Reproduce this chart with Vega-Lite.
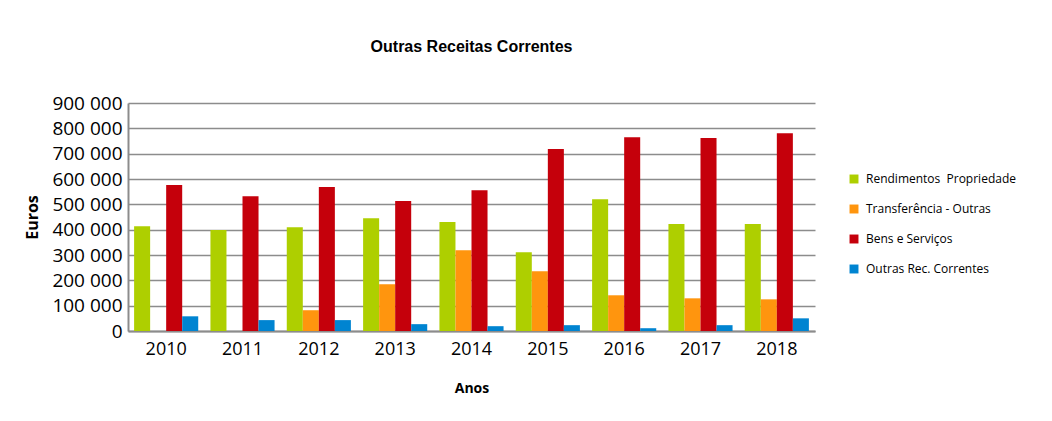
{
  "$schema": "https://vega.github.io/schema/vega-lite/v6.json",
  "width": 687,
  "height": 228,
  "autosize": {"type": "none"},
  "padding": {"left": 128, "top": 103, "right": 237, "bottom": 90},
  "background": "white",
  "config": {
    "locale": {"number": {"decimal": ",", "thousands": " ", "grouping": [3], "currency": ["", " €"]}},
    "view": {"stroke": null},
    "font": "Open Sans"
  },
  "title": {
    "text": "Outras Receitas Correntes",
    "font": "Liberation Sans",
    "fontSize": 16,
    "fontWeight": "bold",
    "color": "black",
    "anchor": "middle",
    "frame": "group",
    "offset": 39
  },
  "data": {
    "values": [
      {"ano": "2010", "serie": "Rendimentos\u00a0 Propriedade", "valor": 413000},
      {"ano": "2010", "serie": "Transferência - Outras", "valor": 0},
      {"ano": "2010", "serie": "Bens e Serviços", "valor": 576000},
      {"ano": "2010", "serie": "Outras Rec. Correntes", "valor": 58000},
      {"ano": "2011", "serie": "Rendimentos\u00a0 Propriedade", "valor": 399000},
      {"ano": "2011", "serie": "Transferência - Outras", "valor": 0},
      {"ano": "2011", "serie": "Bens e Serviços", "valor": 532000},
      {"ano": "2011", "serie": "Outras Rec. Correntes", "valor": 43000},
      {"ano": "2012", "serie": "Rendimentos\u00a0 Propriedade", "valor": 410000},
      {"ano": "2012", "serie": "Transferência - Outras", "valor": 82000},
      {"ano": "2012", "serie": "Bens e Serviços", "valor": 568000},
      {"ano": "2012", "serie": "Outras Rec. Correntes", "valor": 43000},
      {"ano": "2013", "serie": "Rendimentos\u00a0 Propriedade", "valor": 445000},
      {"ano": "2013", "serie": "Transferência - Outras", "valor": 185000},
      {"ano": "2013", "serie": "Bens e Serviços", "valor": 513000},
      {"ano": "2013", "serie": "Outras Rec. Correntes", "valor": 27000},
      {"ano": "2014", "serie": "Rendimentos\u00a0 Propriedade", "valor": 430000},
      {"ano": "2014", "serie": "Transferência - Outras", "valor": 319000},
      {"ano": "2014", "serie": "Bens e Serviços", "valor": 556000},
      {"ano": "2014", "serie": "Outras Rec. Correntes", "valor": 19000},
      {"ano": "2015", "serie": "Rendimentos\u00a0 Propriedade", "valor": 311000},
      {"ano": "2015", "serie": "Transferência - Outras", "valor": 236000},
      {"ano": "2015", "serie": "Bens e Serviços", "valor": 718000},
      {"ano": "2015", "serie": "Outras Rec. Correntes", "valor": 23000},
      {"ano": "2016", "serie": "Rendimentos\u00a0 Propriedade", "valor": 520000},
      {"ano": "2016", "serie": "Transferência - Outras", "valor": 141000},
      {"ano": "2016", "serie": "Bens e Serviços", "valor": 765000},
      {"ano": "2016", "serie": "Outras Rec. Correntes", "valor": 11000},
      {"ano": "2017", "serie": "Rendimentos\u00a0 Propriedade", "valor": 422000},
      {"ano": "2017", "serie": "Transferência - Outras", "valor": 129000},
      {"ano": "2017", "serie": "Bens e Serviços", "valor": 762000},
      {"ano": "2017", "serie": "Outras Rec. Correntes", "valor": 23000},
      {"ano": "2018", "serie": "Rendimentos\u00a0 Propriedade", "valor": 422000},
      {"ano": "2018", "serie": "Transferência - Outras", "valor": 125000},
      {"ano": "2018", "serie": "Bens e Serviços", "valor": 781000},
      {"ano": "2018", "serie": "Outras Rec. Correntes", "valor": 50000}
    ]
  },
  "mark": {"type": "bar"},
  "encoding": {
    "x": {
      "field": "ano",
      "type": "nominal",
      "scale": {"paddingInner": 0.16, "paddingOuter": 0.08},
      "axis": {
        "title": "Anos",
        "titleFont": "Open Sans",
        "titleFontSize": 14,
        "titleFontWeight": "bold",
        "titleColor": "black",
        "titlePadding": 23,
        "labelAngle": 0,
        "labelFont": "Open Sans",
        "labelFontSize": 18,
        "labelColor": "black",
        "labelPadding": 9,
        "ticks": false,
        "domainColor": "#8c8c8c",
        "domainWidth": 2,
        "grid": false
      }
    },
    "xOffset": {
      "field": "serie",
      "type": "nominal",
      "sort": ["Rendimentos\u00a0 Propriedade", "Transferência - Outras", "Bens e Serviços", "Outras Rec. Correntes"]
    },
    "y": {
      "field": "valor",
      "type": "quantitative",
      "scale": {"domain": [0, 900000]},
      "axis": {
        "title": "Euros",
        "titleFont": "Open Sans",
        "titleFontSize": 16,
        "titleFontWeight": "bold",
        "titleColor": "black",
        "titlePadding": 11,
        "values": [0, 100000, 200000, 300000, 400000, 500000, 600000, 700000, 800000, 900000],
        "format": ",d",
        "labelFont": "Open Sans",
        "labelFontSize": 19,
        "labelColor": "black",
        "labelPadding": 6,
        "ticks": false,
        "domainColor": "#8c8c8c",
        "domainWidth": 2,
        "gridColor": "#8c8c8c",
        "gridWidth": 1.5
      }
    },
    "color": {
      "field": "serie",
      "type": "nominal",
      "scale": {
        "domain": ["Rendimentos\u00a0 Propriedade", "Transferência - Outras", "Bens e Serviços", "Outras Rec. Correntes"],
        "range": ["#aecf00", "#ff950e", "#c5000b", "#0084d1"]
      },
      "legend": {
        "title": null,
        "orient": "none",
        "legendX": 720,
        "legendY": 70,
        "symbolType": "square",
        "symbolSize": 80,
        "symbolStrokeWidth": 0,
        "labelFont": "Open Sans",
        "labelFontSize": 12,
        "labelColor": "black",
        "labelOffset": 6,
        "rowPadding": 18
      }
    }
  }
}
